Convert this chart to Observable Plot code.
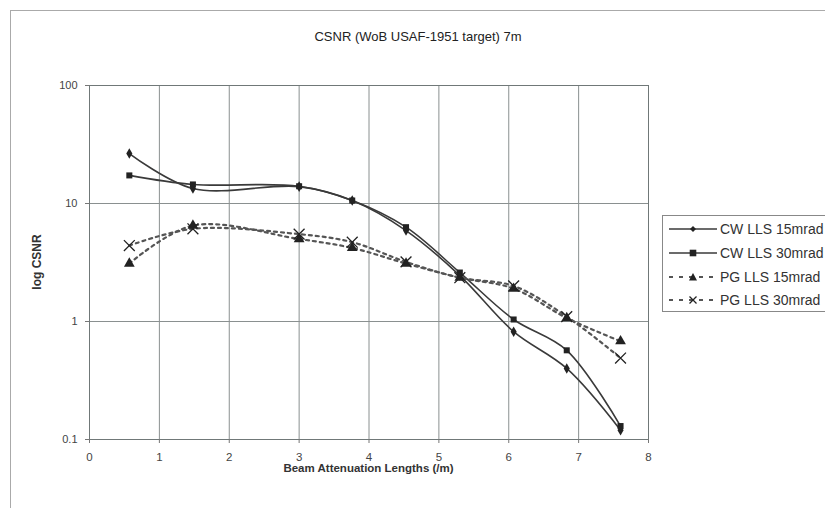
<!DOCTYPE html>
<html><head><meta charset="utf-8">
<script src="https://cdn.jsdelivr.net/npm/d3@7"></script>
<script src="https://cdn.jsdelivr.net/npm/@observablehq/plot@0.6"></script>
<style>
body{margin:0;background:#fff;}
#wrap{position:relative;width:825px;height:508px;overflow:hidden;font-family:"Liberation Sans",Arial,sans-serif;color:#222;}
#border{position:absolute;left:10px;top:10px;width:830px;height:520px;border:1px solid #aaa;box-sizing:border-box;}
#title{position:absolute;left:0;top:29px;width:836px;text-align:center;font-size:13px;color:#222;}
#xlab{position:absolute;left:89px;top:462px;width:559px;text-align:center;font-size:11.5px;font-weight:bold;color:#333;}
#ylab{position:absolute;left:37px;top:262px;transform:translate(-50%,-50%) rotate(-90deg);font-size:12px;font-weight:bold;white-space:nowrap;color:#333;}
#legend{position:absolute;left:662px;top:215px;width:200px;height:97px;border:1px solid #888;box-sizing:border-box;background:#fff;}
#plot{position:absolute;left:0;top:0;}
</style></head>
<body><div id="wrap"><div id="border"></div><div id="plot"></div>
<div id="title">CSNR (WoB USAF-1951 target) 7m</div>
<div id="ylab">log CSNR</div>
<div id="xlab">Beam Attenuation Lengths (/m)</div>
<div id="legend"></div>
</div>
<script>
const xVals = [0.57, 1.48, 3.0, 3.76, 4.53, 5.3, 6.07, 6.83, 7.6];
const cw15 = [26.5, 13.4, 13.9, 10.6, 5.9, 2.45, 0.82, 0.40, 0.12];
const cw30 = [17.3, 14.5, 14.0, 10.6, 6.3, 2.6, 1.04, 0.57, 0.13];
const pg15 = [3.1, 6.5, 5.0, 4.2, 3.1, 2.35, 1.9, 1.07, 0.68];
const pg30 = [4.4, 6.1, 5.5, 4.7, 3.2, 2.35, 2.0, 1.1, 0.49];
const seriesNames = ["CW LLS 15mrad", "CW LLS 30mrad", "PG LLS 15mrad", "PG LLS 30mrad"];
const xTicks = [0,1,2,3,4,5,6,7,8];
const yTicks = [0.1,1,10,100];

const series = [cw15, cw30, pg15, pg30];
const styles = [
  {stroke:"#3a3a3a", dash:null, width:1.6, symbol:"diamond", r:3.2},
  {stroke:"#3a3a3a", dash:null, width:1.6, symbol:"square", r:3.4},
  {stroke:"#555", dash:"3,4", width:2.2, symbol:"triangle", r:4},
  {stroke:"#555", dash:"3,4", width:2.2, symbol:"times", r:5}
];
const data = series.map((vals,i)=>vals.map((v,j)=>({x:xVals[j], y:v, s:seriesNames[i]})));

const marks = [
  Plot.gridX(xTicks.slice(1,-1), {stroke:"#8a9090", strokeOpacity:1}),
  Plot.gridY(yTicks.slice(1,-1), {stroke:"#8a9090", strokeOpacity:1}),
  Plot.frame({stroke:"#707878"}),
  Plot.axisX(xTicks, {tickSize:4, tickPadding:9, fontSize:11.5, label:null, stroke:"#777", fill:"#444"}),
  Plot.axisY(yTicks, {tickSize:4, tickPadding:8, fontSize:11, label:null, stroke:"#777", fill:"#444", tickFormat:d=>String(d)})
];
data.forEach((d,i)=>{
  const st = styles[i];
  marks.push(Plot.line(d, {x:"x", y:"y", curve:"catmull-rom", stroke:st.stroke, strokeWidth:st.width, strokeDasharray:st.dash}));
});
data.forEach((d,i)=>{
  const st = styles[i];
  if (st.symbol==="times") marks.push(Plot.dot(d,{x:"x",y:"y",symbol:"times",r:st.r,stroke:"#222",strokeWidth:1.3}));
  else marks.push(Plot.dot(d,{x:"x",y:"y",symbol:st.symbol,r:st.r,fill:"#222",stroke:"none"}));
});

const chart = Plot.plot({
  width:825, height:508,
  marginLeft:89, marginRight:177, marginTop:85, marginBottom:69,
  x:{domain:[0,8]},
  y:{type:"log", domain:[0.1,100]},
  style:{fontFamily:"'Liberation Sans', Arial, sans-serif", color:"#333", background:"transparent"},
  marks
});
document.getElementById("plot").appendChild(chart);

// legend
const leg = document.getElementById("legend");
const sym = {
  diamond:'<path d="M0,-3L3,0L0,3L-3,0Z" fill="#222"/>',
  square:'<rect x="-3.3" y="-3.3" width="6.6" height="6.6" fill="#222"/>',
  triangle:'<path d="M0,-4L4,3.5L-4,3.5Z" fill="#222"/>',
  times:'<path d="M-3.5,-3.5L3.5,3.5M3.5,-3.5L-3.5,3.5" stroke="#222" stroke-width="1.3"/>'
};
let html = '';
seriesNames.forEach((n,i)=>{
  const st = styles[i];
  const top = 4 + i*23.8;
  html += `<div style="position:absolute;left:4px;top:${top}px;height:18px;display:flex;align-items:center;white-space:nowrap;font-size:14px;color:#333;">
  <svg width="52" height="18" style="margin-right:1px"><line x1="2" y1="9" x2="50" y2="9" stroke="${st.stroke}" stroke-width="${st.dash?2:1.4}" ${st.dash?'stroke-dasharray="4,6"':''}/><g transform="translate(26,9)">${sym[st.symbol]}</g></svg>${n}</div>`;
});
leg.innerHTML = html;
</script>
</body></html>
